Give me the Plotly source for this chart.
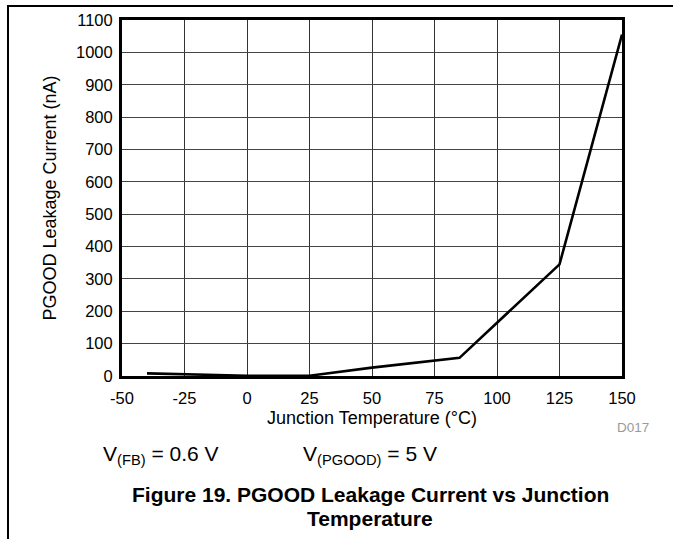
import plotly.graph_objects as go

temps = [-40, -15, 0, 25, 50, 85, 125, 150]
leak_na = [8, 4, 1, 1, 26, 56, 345, 1055]
x_ticks = [-50, -25, 0, 25, 50, 75, 100, 125, 150]
y_ticks = list(range(0, 1101, 100))

L, R, T, B = 122, 622, 20, 376
W, H = 673, 539

def px(x):
    return (x - L) / (R - L)

def py(y):
    return (B - y) / (B - T)

fig = go.Figure()
fig.add_trace(go.Scatter(x=temps, y=leak_na, mode="lines",
                         line=dict(color="black", width=2.6), showlegend=False))

font = "Liberation Sans, Arial, sans-serif"
fig.update_layout(
    width=W, height=H,
    margin=dict(l=L, r=W - R, t=T, b=H - B),
    paper_bgcolor="white", plot_bgcolor="white",
    font=dict(family=font, color="black", size=16),
    xaxis=dict(range=[-50, 150], tickvals=x_ticks, ticktext=[str(v) for v in x_ticks],
               showgrid=True, gridcolor="#333", gridwidth=1, zeroline=False,
               showline=True, linecolor="black", linewidth=3, mirror=True,
               ticks="", ticklabelstandoff=5, tickfont=dict(size=16.5)),
    yaxis=dict(range=[0, 1100], tickvals=y_ticks, ticktext=[str(v) for v in y_ticks],
               showgrid=True, gridcolor="#444", gridwidth=1, zeroline=False,
               showline=True, linecolor="black", linewidth=3, mirror=True,
               ticks="", ticklabelstandoff=3, tickfont=dict(size=16.5)),
)

ann = [
    dict(text="Junction Temperature (°C)", x=px(371.5), y=py(417.5), size=18, color="black", bold=False),
    dict(text="D017", x=px(633), y=py(427), size=13.5, color="#9a9a9a", bold=False),
    dict(text="PGOOD Leakage Current (nA)", x=px(49.5), y=py(198), size=18, color="black", bold=False, rot=-90),
    dict(text="Figure 19. PGOOD Leakage Current vs Junction", x=px(370), y=py(494), size=21, color="black", bold=True),
    dict(text="Temperature", x=px(370), y=py(518), size=21, color="black", bold=True),
]
for a in ann:
    txt = "<b>" + a["text"] + "</b>" if a["bold"] else a["text"]
    fig.add_annotation(text=txt, x=a["x"], y=a["y"], xref="paper", yref="paper",
                       showarrow=False, xanchor="center", yanchor="middle",
                       textangle=a.get("rot", 0),
                       font=dict(size=a["size"], color=a["color"], family=font))

fig.add_annotation(text="V<sub>(FB)</sub> = 0.6 V", x=px(101), y=py(455), xref="paper", yref="paper",
                   showarrow=False, xanchor="left", yanchor="middle",
                   font=dict(size=21, family=font, color="black"))
fig.add_annotation(text="V<sub>(PGOOD)</sub> = 5 V", x=px(301), y=py(455), xref="paper", yref="paper",
                   showarrow=False, xanchor="left", yanchor="middle",
                   font=dict(size=21, family=font, color="black"))

# outer frame (top and left edges)
fig.add_shape(type="line", xref="paper", yref="paper", x0=px(7), x1=px(673), y0=py(6), y1=py(6),
              line=dict(color="black", width=2))
fig.add_shape(type="line", xref="paper", yref="paper", x0=px(8), x1=px(8), y0=py(6), y1=py(539),
              line=dict(color="black", width=2))

fig.write_html("out.html", config={"displayModeBar": False},
               post_script="document.body.style.margin='0px';")
